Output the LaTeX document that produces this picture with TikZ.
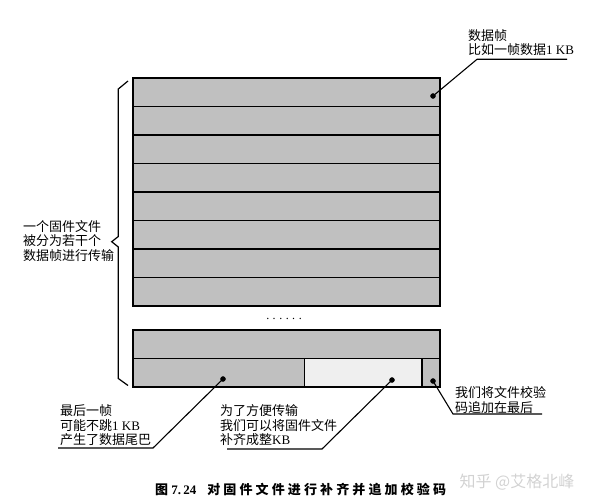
\documentclass[tikz,border=0pt]{standalone}
\usepackage{fontspec}
\setmainfont{Liberation Serif}
\newfontfamily\cjk{Noto Sans CJK SC}
\usepackage{tikz}
\usetikzlibrary{positioning}
\usepackage{xcolor}
\definecolor{framegray}{HTML}{C0C0C0}
\definecolor{padgray}{HTML}{EFEFEF}
\definecolor{wmgray}{HTML}{D2D2D2}
\tikzset{
	frame/.style={draw, line width=1.6pt, fill=framegray, inner sep=0pt, outer sep=0pt, anchor=north west, minimum height=28.5pt},
	note/.style={font=\fontsize{13}{14.5}\selectfont, align=left, inner sep=0pt, anchor=west},
	leader/.style={line width=1.1pt},
}

\begin{document}
\begin{tikzpicture}[x=1pt,y=-1pt]
		\useasboundingbox (0,0) rectangle (596,502);
		\foreach \i in {1,...,8}
			\node[frame, minimum width=307pt] (f\i) at (133,{78+28.5*(\i-1)}) {};
		\node[font=\fontsize{12}{12}\selectfont] (dots) at (284,319) {.\hspace{3.5pt}.\hspace{3.5pt}.\hspace{3.5pt}.\hspace{3.5pt}.\hspace{3.5pt}.};
		\node[frame, minimum width=307pt] (last1) at (133,330) {};
		\node[frame, minimum width=171.3pt] (tail) at (133,358.5) {};
		\node[frame, minimum width=117.4pt, fill=padgray] (pad) at (tail.north east) {};
		\node[frame, minimum width=18.3pt] (crc) at (pad.north east) {};
		
		\draw[line width=1.2pt] (128,81) -- (118.3,89) -- (118.3,236.5) -- (111.7,241.7) -- (118.3,247) -- (118.3,378.5) -- (128,385.5);
		\node[note] (split) at (23,241) {{\cjk 一个固件文件}\\{\cjk 被分为若干个}\\{\cjk 数据帧进行传输}};
		
		\filldraw (433,96) circle (2.5pt) coordinate (d1);
		\filldraw (223,379) circle (2.5pt) coordinate (d2);
		\filldraw (392,380) circle (2.5pt) coordinate (d3);
		\filldraw (433,381) circle (2.5pt) coordinate (d4);
		\coordinate (u1) at (477,59.3);
		\coordinate (v1) at (567,59.3);
		\coordinate (u2) at (153,448);
		\coordinate (v2) at (58,448);
		\coordinate (u3) at (322,449);
		\coordinate (v3) at (227,449);
		\coordinate (u4) at (453,414);
		\coordinate (v4) at (542,414);
		\draw[leader] (d1) -- (u1) -- (v1);
		\draw[leader] (d2) -- (u2) -- (v2);
		\draw[leader] (d3) -- (u3) -- (v3);
		\draw[leader] (d4) -- (u4) -- (v4);
		
		\node[note] (framenote) at (468,42.5) {{\cjk 数据帧}\\{\cjk 比如一帧数据}1 KB};
		\node[note] (tailnote) at (60,425.5) {{\cjk 最后一帧}\\{\cjk 可能不跳}1 KB\\{\cjk 产生了数据尾巴}};
		\node[note] (padnote) at (220,425.5) {{\cjk 为了方便传输}\\{\cjk 我们可以将固件文件}\\{\cjk 补齐成整}KB};
		\node[note] (crcnote) at (455,400) {{\cjk 我们将文件校验}\\{\cjk 码追加在最后}};
		
		\node[anchor=west, inner sep=0pt, font=\fontsize{13}{14}\selectfont\bfseries] (caption) at (155,490)
		{{\cjk 图} 7.\,24\hspace{11pt}{\cjk\addfontfeature{LetterSpace=24}对固件文件进行补齐并追加校验码}};
		\node[text=wmgray, inner sep=0pt, font=\cjk\fontsize{16}{16}\selectfont] (mark) at (517,482) {知乎 @艾格北峰};
\end{tikzpicture}
\end{document}
